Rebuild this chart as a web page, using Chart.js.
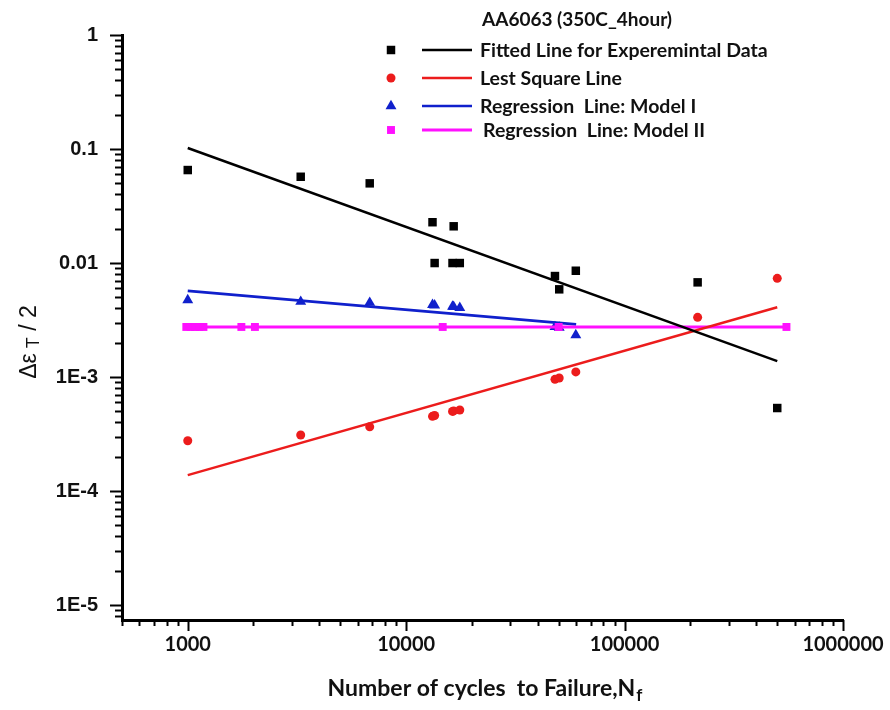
<!DOCTYPE html>
<html>
<head>
<meta charset="utf-8">
<script src="https://cdn.jsdelivr.net/npm/chart.js@4.4.0/dist/chart.umd.min.js"></script>
<style>
  html, body { margin: 0; padding: 0; background: #fff; }
  canvas { display: block; }
</style>
</head>
<body>
<canvas id="strainChart" width="890" height="710"></canvas>
<script>
// Data (cycles to failure vs. strain amplitude)
const cycles = [1000, 3290, 6810, 13200, 13500, 16300, 16500, 17600, 48000, 50200, 59800, 216000, 500000];
const expStrain = [0.0654, 0.0571, 0.0500, 0.0228, 0.0100, 0.0100, 0.0210, 0.0100, 0.00769, 0.00588, 0.00856, 0.00677, 0.000535];
const lsqStrain = [0.000276, 0.000310, 0.000366, 0.000452, 0.000460, 0.000500, 0.000505, 0.000514, 0.000955, 0.000980, 0.00111, 0.00334, 0.00734];

const model1Cycles = [1000, 3290, 6810, 13200, 13500, 16300, 16500, 17600, 48000, 50200, 59800];
const model1Strain = [0.00473, 0.00458, 0.00449, 0.00430, 0.00426, 0.00415, 0.00413, 0.00405, 0.00275, 0.00272, 0.00233];

const model2Cycles = [985, 1030, 1080, 1130, 1180, 1760, 2030, 14700, 49900, 551000];
const model2Strain = [0.00275, 0.00275, 0.00275, 0.00275, 0.00275, 0.00275, 0.00275, 0.00275, 0.00275, 0.00275];

// fitted lines (end points)
const fitCycles = [1000, 500000];
const expFit = [0.102, 0.00138];
const lsqFit = [0.000138, 0.00409];
const model1FitCycles = [1000, 60000];
const model1Fit = [0.00571, 0.00290];

// axes
const xMin = 500, xMax = 1000000;
const yMin = 7.4e-6, yMax = 1;
const xTickValues = [1000, 10000, 100000, 1000000];
const xTickLabels = ['1000', '10000', '100000', '1000000'];
const yTickValues = [1e-5, 1e-4, 1e-3, 0.01, 0.1, 1];
const yTickLabels = ['1E-5', '1E-4', '1E-3', '0.01', '0.1', '1'];

const legendTitle = 'AA6063 (350C_4hour)';
const legendLabels = [
    'Fitted Line for Experemintal Data',
    'Lest Square Line',
    'Regression  Line: Model I',
    'Regression  Line: Model II'
];

const BLACK = '#000000', RED = '#ec1c1c', BLUE = '#1020cc', MAGENTA = '#ff10ff';

function pts(xs, ys) {
    return xs.map((x, i) => ({ x: x, y: ys[i] }));
}

// legend markers, same order as legendLabels
const markers = [
    { color: BLACK, style: 'rect', radius: 6 },
    { color: RED, style: 'circle', radius: 4.5 },
    { color: BLUE, style: 'triangle', radius: 6.3 },
    { color: MAGENTA, style: 'rect', radius: 5.6 }
];

// ticks, axis titles and the legend
const decor = {
    id: 'decor',
    afterDraw(chart) {
        const ctx = chart.ctx;
        const xs = chart.scales.x, ys = chart.scales.y;
        const area = chart.chartArea;
        ctx.save();
        ctx.strokeStyle = '#000';
        ctx.lineWidth = 2;

        // y minor/major ticks, pointing left
        for (let e = -6; e <= 0; e++) {
            for (let m = 1; m <= 9; m++) {
                const v = m * Math.pow(10, e);
                if (v < yMin || v > yMax * 1.0001) continue;
                const py = Math.round(ys.getPixelForValue(v)) + 0.5;
                const len = m === 1 ? 12 : 7;
                ctx.beginPath();
                ctx.moveTo(area.left - len, py);
                ctx.lineTo(area.left, py);
                ctx.stroke();
            }
        }
        // x ticks, pointing down
        for (let e = 2; e <= 6; e++) {
            for (let m = 1; m <= 9; m++) {
                const v = m * Math.pow(10, e);
                if (v < xMin || v > xMax * 1.0001) continue;
                const px = Math.round(xs.getPixelForValue(v)) + 0.5;
                const len = m === 1 ? 11 : 6;
                ctx.beginPath();
                ctx.moveTo(px, area.bottom);
                ctx.lineTo(px, area.bottom + len);
                ctx.stroke();
            }
        }

        // x title with subscript
        ctx.fillStyle = '#111';
        ctx.textBaseline = 'alphabetic';
        ctx.textAlign = 'left';
        ctx.font = 'bold 23px Lato';
        const main = 'Number of cycles  to Failure,N';
        const wMain = ctx.measureText(main).width;
        ctx.font = 'bold 17px Lato';
        const wSub = ctx.measureText('f').width;
        let tx = (area.left + area.right) / 2 - (wMain + wSub) / 2 + 2;
        ctx.font = 'bold 23px Lato';
        ctx.fillText(main, tx, 696);
        ctx.font = 'bold 17px Lato';
        ctx.fillText('f', tx + wMain + 1, 701);

        // y title, rotated: Δε_T / 2
        ctx.save();
        ctx.translate(36, 342);
        ctx.rotate(-Math.PI / 2);
        ctx.font = '23px "Liberation Sans"';
        const a = 'Δε', c = ' / 2';
        const wa = ctx.measureText(a).width, wc = ctx.measureText(c).width;
        ctx.font = '18px "Liberation Sans"';
        const wb = ctx.measureText('T').width;
        const total = wa + 5 + wb + wc;
        let sx = -total / 2;
        ctx.font = '23px "Liberation Sans"';
        ctx.fillText(a, sx, 0);
        sx += wa + 5;
        ctx.font = '18px "Liberation Sans"';
        ctx.fillText('T', sx, 3);
        sx += wb;
        ctx.font = '23px "Liberation Sans"';
        ctx.fillText(c, sx, 0);
        ctx.restore();

        // legend
        ctx.textBaseline = 'middle';
        ctx.font = 'bold 19px Lato';
        ctx.fillStyle = '#111';
        ctx.fillText(legendTitle, 482, 20);
        const rowY = [50, 78, 106, 130];
        const textX = [480, 480, 480, 483];
        ctx.font = 'bold 19.5px Lato';
        legendLabels.forEach((label, i) => {
            const mk = markers[i];
            ctx.fillStyle = mk.color;
            ctx.strokeStyle = mk.color;
            Chart.helpers.drawPoint(ctx, { pointStyle: mk.style, radius: mk.radius, rotation: 0, borderWidth: 0 }, 391, rowY[i]);
            ctx.lineWidth = i === 3 ? 3 : 2.5;
            ctx.beginPath();
            ctx.moveTo(422, rowY[i]);
            ctx.lineTo(472, rowY[i]);
            ctx.stroke();
            ctx.fillStyle = '#111';
            ctx.fillText(label, textX[i], rowY[i] + 1);
        });
        ctx.restore();
    }
};

const ctx = document.getElementById('strainChart').getContext('2d');
const chart = new Chart(ctx, {
    type: 'scatter',
    data: {
        datasets: [
            {
                label: legendLabels[0] + ' (fit)',
                data: pts(fitCycles, expFit),
                showLine: true, borderColor: BLACK, borderWidth: 2.5,
                pointRadius: 0
            },
            {
                label: legendLabels[1] + ' (fit)',
                data: pts(fitCycles, lsqFit),
                showLine: true, borderColor: RED, borderWidth: 2.5,
                pointRadius: 0
            },
            {
                label: legendLabels[3],
                data: pts(model2Cycles, model2Strain),
                showLine: true, borderColor: MAGENTA, borderWidth: 3,
                pointStyle: 'rect', pointRadius: 5.6,
                pointBackgroundColor: MAGENTA, pointBorderWidth: 0
            },
            {
                label: legendLabels[2] + ' (fit)',
                data: pts(model1FitCycles, model1Fit),
                showLine: true, borderColor: BLUE, borderWidth: 2.7,
                pointRadius: 0
            },
            {
                label: 'Experimental',
                data: pts(cycles, expStrain),
                pointStyle: 'rect', pointRadius: 6,
                backgroundColor: BLACK, borderWidth: 0
            },
            {
                label: 'Least square',
                data: pts(cycles, lsqStrain),
                pointStyle: 'circle', pointRadius: 4.5,
                backgroundColor: RED, borderWidth: 0
            },
            {
                label: 'Model I',
                data: pts(model1Cycles, model1Strain),
                pointStyle: 'triangle', pointRadius: 6.3,
                backgroundColor: BLUE, borderWidth: 0
            }
        ]
    },
    options: {
        responsive: false,
        animation: false,
        devicePixelRatio: 1,
        layout: { padding: { top: 35, right: 47, left: 0, bottom: 0 } },
        plugins: {
            legend: { display: false },
            tooltip: { enabled: false }
        },
        scales: {
            x: {
                type: 'logarithmic',
                min: xMin,
                max: xMax,
                afterBuildTicks: s => { s.ticks = xTickValues.map(v => ({ value: v })); },
                afterFit: s => { s.height = 90; s.paddingRight = 0; s.paddingLeft = 0; },
                grid: { display: true, drawOnChartArea: false, drawTicks: false },
                border: { display: true, color: '#000', width: 3 },
                ticks: {
                    autoSkip: false,
                    maxRotation: 0,
                    padding: 13,
                    color: '#111',
                    font: { family: 'Lato', weight: 'bold', size: 20 },
                    callback: (v, i) => xTickLabels[i]
                }
            },
            y: {
                type: 'logarithmic',
                min: yMin,
                max: yMax,
                afterBuildTicks: s => { s.ticks = yTickValues.map(v => ({ value: v })); },
                afterFit: s => { s.width = 122; s.paddingTop = 0; s.paddingBottom = 0; },
                grid: { display: true, drawOnChartArea: false, drawTicks: false },
                border: { display: true, color: '#000', width: 3 },
                ticks: {
                    autoSkip: false,
                    padding: 24,
                    color: '#111',
                    font: { family: '"Liberation Sans"', weight: 'bold', size: 20 },
                    callback: (v, i) => yTickLabels[i]
                }
            }
        }
    },
    plugins: [decor]
});
</script>
</body>
</html>
